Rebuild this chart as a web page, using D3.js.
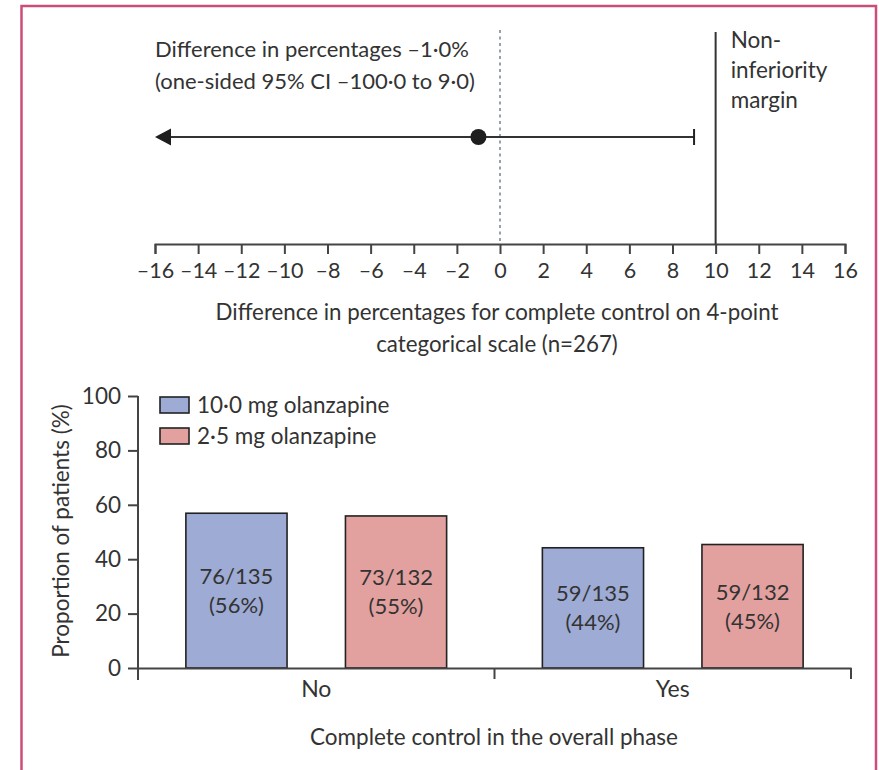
<!DOCTYPE html>
<html><head><meta charset="utf-8">
<script src="https://cdn.jsdelivr.net/npm/d3@7"></script>
<style>body{margin:0;background:#fff}svg{display:block}text{font-family:Lato,"Open Sans",sans-serif;fill:#333}</style>
</head><body><div id="c"></div>
<script>
// Top panel data
const diffTicks = [-16,-14,-12,-10,-8,-6,-4,-2,0,2,4,6,8,10,12,14,16];
const diffEstimate = -1.0;
const diffCIUpper = 9.0;
const niMargin = 10;
const diffText = ["Difference in percentages \u20131\u00b70%", "(one-sided 95% CI \u2013100\u00b70 to 9\u00b70)"];
const niText = ["Non-", "inferiority", "margin"];
const diffAxisTitle = ["Difference in percentages for complete control on 4-point", "categorical scale (n=267)"];
// Bottom panel data
const categories = ["No", "Yes"];
const seriesNames = ["10\u00b70 mg olanzapine", "2\u00b75 mg olanzapine"];
const valuesHigh = [56.9, 44.2];
const valuesLow = [55.9, 45.4];
const labelsHigh = [["76/135","(56%)"],["59/135","(44%)"]];
const labelsLow = [["73/132","(55%)"],["59/132","(45%)"]];
const yTicks = [0,20,40,60,80,100];

const W = 879, H = 770;
const svg = d3.select("#c").append("svg").attr("width", W).attr("height", H);
const ink = "#2e2e2e";

// frame
svg.append("path").attr("d", `M21.5,${H+5} V6 H876 V${H+5}`).attr("fill","none").attr("stroke","#cc4d7b").attr("stroke-width",2.5);

// ---------- Top panel ----------
const x = d3.scaleLinear().domain([-16,16]).range([155,845]);
const axisY = 244;
const topG = svg.append("g").attr("transform", `translate(0,${axisY})`);
const fmt = d => d < 0 ? "\u2013" + Math.abs(d) : String(d);
topG.call(d3.axisBottom(x).tickValues(diffTicks).tickFormat(fmt).tickSize(10).tickSizeOuter(10));
topG.select(".domain").attr("stroke", "#444").attr("stroke-width", 2);
topG.selectAll(".tick line").attr("stroke", "#444").attr("stroke-width", 2);
topG.selectAll(".tick text").attr("fill", ink).attr("font-size", 21.5).attr("font-family","Lato").attr("y", 34).attr("dy", 0);

// zero dotted line
svg.append("line").attr("x1", x(0)).attr("x2", x(0)).attr("y1", 30).attr("y2", axisY)
  .attr("stroke", "#6f8496").attr("stroke-width", 1.5).attr("stroke-dasharray", "3,3.5");
// non-inferiority line
svg.append("line").attr("x1", x(niMargin)).attr("x2", x(niMargin)).attr("y1", 32).attr("y2", axisY)
  .attr("stroke", "#333").attr("stroke-width", 2);
niText.forEach((t,i) => svg.append("text").attr("x", x(niMargin)+15).attr("y", 48 + i*30)
  .attr("font-size", 22.5).text(t));

// CI line with arrow
const ciY = 137;
svg.append("line").attr("x1", x(-16)+6).attr("x2", x(diffCIUpper)).attr("y1", ciY).attr("y2", ciY)
  .attr("stroke", "#333").attr("stroke-width", 2);
svg.append("path").attr("d", `M${x(-16)},${ciY} L${x(-16)+16},${ciY-8.5} L${x(-16)+16},${ciY+8.5} Z`).attr("fill", "#1e1e1e");
svg.append("line").attr("x1", x(diffCIUpper)).attr("x2", x(diffCIUpper)).attr("y1", ciY-8).attr("y2", ciY+8)
  .attr("stroke", "#222").attr("stroke-width", 2);
svg.append("circle").attr("cx", x(diffEstimate)).attr("cy", ciY).attr("r", 8).attr("fill", "#1e1e1e");

diffText.forEach((t,i) => svg.append("text").attr("x", 155).attr("y", 57 + i*32).attr("font-size", 22).text(t));
diffAxisTitle.forEach((t,i) => svg.append("text").attr("x", 497).attr("y", 320 + i*32).attr("text-anchor","middle").attr("font-size", 22.3).text(t));

// ---------- Bottom panel ----------
const y = d3.scaleLinear().domain([0,100]).range([668,396]);
const x0 = d3.scaleBand().domain(categories).range([138,851]).paddingInner(0).paddingOuter(0);
const x1 = d3.scaleBand().domain(seriesNames).range([0, x0.bandwidth()]).paddingInner(0.366).paddingOuter(0.3);
const colors = ["#9dabd5", "#e2a09f"];

// y axis
const yG = svg.append("g").attr("transform", "translate(138,0)");
yG.call(d3.axisLeft(y).tickValues(yTicks).tickSize(10).tickSizeOuter(0));
yG.select(".domain").attr("stroke", "#444").attr("stroke-width", 2).attr("d", "M0,396V680");
yG.selectAll(".tick line").attr("stroke", "#444").attr("stroke-width", 2);
yG.selectAll(".tick text").attr("fill", ink).attr("font-size", 22.5).attr("font-family","Lato").attr("x", -17);

// x axis
const xG = svg.append("g").attr("transform", "translate(0,668)");
xG.call(d3.axisBottom(x0).tickSize(0).tickSizeOuter(0));
xG.select(".domain").attr("stroke", "#444").attr("stroke-width", 2);
xG.selectAll(".tick text").attr("fill", ink).attr("font-size", 23).attr("font-family","Lato").attr("y", 29).attr("dy", 0);
// category separators
const seps = [x0.range()[1]].concat(categories.slice(1).map(c => x0(c)));
xG.selectAll(".sep").data(seps).enter().append("line").attr("x1", d=>d).attr("x2", d=>d).attr("y1", 0).attr("y2", 11)
  .attr("stroke", "#444").attr("stroke-width", 2);

// bars
const data = categories.map((c,i) => [
  {cat:c, s:seriesNames[0], v:valuesHigh[i], lab:labelsHigh[i], col:colors[0]},
  {cat:c, s:seriesNames[1], v:valuesLow[i], lab:labelsLow[i], col:colors[1]}
]).flat();
const barG = svg.append("g");
barG.selectAll("rect").data(data).enter().append("rect")
  .attr("x", d => x0(d.cat) + x1(d.s)).attr("width", x1.bandwidth())
  .attr("y", d => y(d.v)).attr("height", d => y(0) - y(d.v))
  .attr("fill", d => d.col).attr("stroke", "#222").attr("stroke-width", 1.6);
data.forEach(d => {
  const cx = x0(d.cat) + x1(d.s) + x1.bandwidth()/2;
  const mid = (y(d.v) + y(0)) / 2;
  d.lab.forEach((t,i) => svg.append("text").attr("x", cx).attr("y", mid - 6.5 + i*29).attr("text-anchor","middle")
    .attr("font-size", 22).attr("fill","#3a3a48").text(t));
});
xG.raise();

// legend
seriesNames.forEach((s,i) => {
  const ly = 397 + i*31;
  svg.append("rect").attr("x", 160).attr("y", ly).attr("width", 29).attr("height", 16)
    .attr("fill", colors[i]).attr("stroke", "#222").attr("stroke-width", 1.6);
  svg.append("text").attr("x", 197).attr("y", ly + 16).attr("font-size", 22.5).text(s);
});

// axis titles
svg.append("text").attr("transform", "translate(69,531) rotate(-90)").attr("text-anchor","middle").attr("font-size", 22.5).text("Proportion of patients (%)");
svg.append("text").attr("x", 494).attr("y", 745).attr("text-anchor","middle").attr("font-size", 22.5).text("Complete control in the overall phase");
</script></body></html>
